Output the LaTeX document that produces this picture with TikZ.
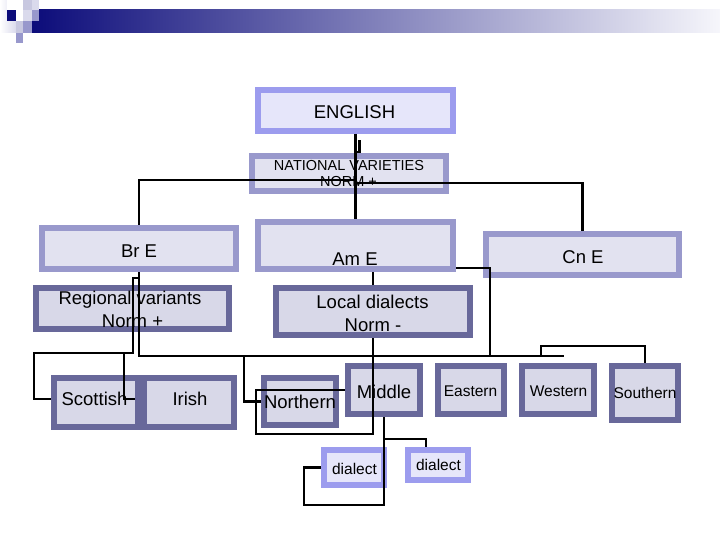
\documentclass[tikz,border=0pt]{standalone}
\usepackage{fontspec}
\setmainfont{Liberation Sans}
\usetikzlibrary{calc}
\definecolor{navy}{RGB}{12,12,122}
\definecolor{barend}{RGB}{246,246,251}
\definecolor{lightB}{RGB}{156,156,238}
\definecolor{lightF}{RGB}{230,230,250}
\definecolor{medB}{RGB}{153,153,204}
\definecolor{medF}{RGB}{226,226,240}
\definecolor{darkB}{RGB}{104,104,154}
\definecolor{darkF}{RGB}{216,216,232}
\definecolor{sqA}{RGB}{200,200,224}
\definecolor{sqB}{RGB}{218,218,236}
\definecolor{sqC}{RGB}{152,152,204}
\begin{document}
\begin{tikzpicture}[x=1pt,y=-1pt,
  bx/.style={rectangle, line width=6pt, inner sep=0pt, outer sep=3pt},
  lightbox/.style={bx, draw=lightB, fill=lightF},
  medbox/.style={bx, draw=medB, fill=medF},
  darkbox/.style={bx, draw=darkB, fill=darkF},
  tx/.style={anchor=base, inner sep=0pt, font=\fontsize{18.5}{20}\selectfont},
  txs/.style={anchor=base, inner sep=0pt, font=\fontsize{15.5}{17}\selectfont},
  txn/.style={anchor=base, inner sep=0pt, font=\fontsize{14.5}{16}\selectfont},
  ln/.style={line width=2.2pt, black}]
\useasboundingbox (0,0) rectangle (720,540);
\fill[white] (0,0) rectangle (720,540);
% header
\shade[left color=navy, right color=barend] (32,10) rectangle (720,33);
\shade[left color=white, right color=sqB] (0,0) rectangle (16,33);
\fill[white] (7,0) rectangle (23,10);
\fill[navy] (7,10) rectangle (16,21);
\fill[white] (16,10) rectangle (23,21);
\fill[sqA] (23,0) rectangle (32,10);
\fill[sqB] (32,0) rectangle (39,10);
\fill[sqB] (23,10) rectangle (32,21);
\fill[sqC] (32,10) rectangle (39,21);
\fill[sqA] (16,21) rectangle (23,33);
\fill[sqC] (23,21) rectangle (32,33);
\fill[sqC] (16,33) rectangle (23,43);
% boxes
\node[lightbox, minimum width=195, minimum height=41] (eng) at (355.5,110.5) {};
\node[medbox, minimum width=194, minimum height=35] (nat) at (349,173.5) {};
\node[medbox, minimum width=194, minimum height=41] (brE) at (139,248.5) {};
\node[medbox, minimum width=195, minimum height=47] (amE) at (355.5,245.5) {};
\node[medbox, minimum width=193, minimum height=41] (cnE) at (582.5,254.5) {};
\node[darkbox, minimum width=193, minimum height=41] (reg) at (132.5,308.5) {};
\node[darkbox, minimum width=194, minimum height=47] (loc) at (373,311.5) {};
\node[darkbox, minimum width=84, minimum height=49] (sco) at (96,402.5) {};
\node[darkbox, minimum width=90, minimum height=49] (iri) at (189,402.5) {};
\node[darkbox, minimum width=72, minimum height=47] (nor) at (300,401.5) {};
\node[darkbox, minimum width=72, minimum height=48] (mid) at (384,390) {};
\node[darkbox, minimum width=66, minimum height=48] (eas) at (471,390) {};
\node[darkbox, minimum width=72, minimum height=48] (wes) at (558,390) {};
\node[darkbox, minimum width=66, minimum height=54] (sou) at (645,393) {};
\node[lightbox, minimum width=60, minimum height=35] (d1) at (354,467.5) {};
\node[lightbox, minimum width=60, minimum height=30] (d2) at (438,465) {};
% texts
\node[tx] (engT) at (354.5,119) {ENGLISH};
\node[txn] (natT1) at (349,171) {NATIONAL VARIETIES};
\node[txn] (natT2) at (348.5,187) {NORM +};
\node[tx] (brET) at (139,257) {Br E};
\node[tx] (amET) at (355,265) {Am E};
\node[tx] (cnET) at (583,263) {Cn E};
\node[tx] (regT1) at (130,304) {Regional variants};
\node[tx] (regT2) at (132.5,327) {Norm +};
\node[tx] (locT1) at (372.5,308) {Local dialects};
\node[tx] (locT2) at (373,331) {Norm -};
\node[tx] (scoT) at (94.5,405) {Scottish};
\node[tx] (iriT) at (190,405) {Irish};
\node[tx] (norT) at (300,408) {Northern};
\node[tx] (midT) at (384,398) {Middle};
\node[txs] (easT) at (470.5,396) {Eastern};
\node[txs] (wesT) at (558.5,396) {Western};
\node[txs] (souT) at (645,398) {Southern};
\node[txs] (d1T) at (354.5,474) {dialect};
\node[txs] (d2T) at (438.5,470) {dialect};
% connectors
\coordinate (natL) at (355.5,180);
\coordinate (natR) at (355.5,183);
\draw[ln] (eng.south) -- (amE.north);
\draw[ln] ([yshift=-18pt]eng.south) -- ++(4,0) -- ++(0,-12);
\draw[ln] (natL) -| (brE.north);
\draw[ln] (natR) -| (cnE.north);
\draw[ln] (amE.south -| loc.north) -- (loc.north);
\draw[ln] (brE.south) -- (139,356) -- (564,356);
\draw[ln] (139,278) -- (133,278) -- (133,353) -- (34,353) -- (34,399) -- ([yshift=3.5pt]sco.west);
\draw[ln] (124,353) -- (124,399) -- (135,399);
\draw[ln] ([yshift=4pt]amE.south east) -- (490,268) -- (490,356);
\draw[ln] (244,356) |- (nor.west);
\draw[ln] (sou.north) |- (541,346) -- (541,356);
\draw[ln] (loc.south) -- (373,434) -| (256,390) -- (mid.west);
\draw[ln] (mid.south) -- (384,439) -| ([xshift=-12pt]d2.north);
\draw[ln] (384,439) -- (384,505) -- (304,505) |- (d1.west);
\end{tikzpicture}
\end{document}
